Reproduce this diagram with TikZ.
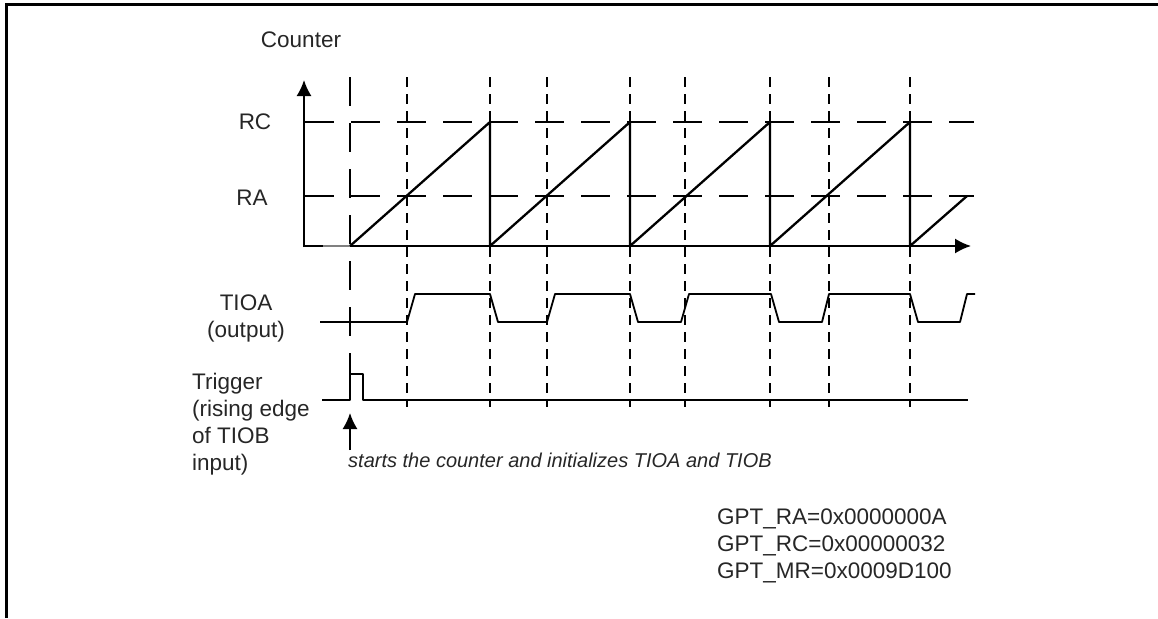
\documentclass[tikz,border=0pt]{standalone}
\usepackage{fontspec}
\setmainfont{Liberation Sans}
\usetikzlibrary{arrows.meta}

\begin{document}
\begin{tikzpicture}[x=1pt, y=-1pt, >={Latex[length=16pt,width=15pt]},
    longdash/.style={dash pattern=on 29pt off 17pt, line width=1.6pt},
    shortdash/.style={dash pattern=on 10pt off 7pt, line width=1.5pt},
    wave/.style={line width=1.8pt, line join=bevel},
    lbl/.style={font=\fontsize{22.5}{27}\selectfont, text=black!85, inner sep=0pt}]
    \useasboundingbox (0,0) rectangle (1158,618);

    % Frame
    \draw[line width=3pt] (6.5,618) -- (6.5,4.7) -- (1158,4.7);

    % Levels RC and RA
    \draw[longdash] (305,122) -- (974,122);
    \draw[longdash] (305,196) -- (974,196);

    % Trigger instant
    \draw[longdash] (350,77) -- (350,400);

    % TIOA edges
    \foreach \t in {407,490,547,630,685,770,829,910}
        \draw[shortdash] (\t,77) -- (\t,407);

    % Axes
    \draw[->, line width=1.8pt] (304,247) -- (304,80);
    \draw[->, line width=1.8pt] (304,246) -- (971,246);

    % Counter
    \draw[line width=2.6pt, black!50] (323,246) -- (350,246);
    \draw[wave, line width=2.3pt] (350,246)
        \foreach \t in {490,630,770,910} { -- (\t,122) -- (\t,246) } -- (967,196);

    % TIOA
    \draw[wave] (320,322) -- (407,322) -- (415,294) -- (490,294) -- (498,322)
        -- (547,322) -- (555,294) -- (630,294) -- (638,322) -- (681,322)
        -- (689,294) -- (771,294) -- (779,322) -- (822,322) -- (829,294)
        -- (910,294) -- (918,322) -- (960,322) -- (967,294) -- (975,294);

    % Trigger
    \draw[wave] (322,400) -- (350,400) -- (350,374) -- (363,374) -- (363,400) -- (968,400);
    \draw[->, line width=1.7pt] (350,450) -- (350,413);

    % Labels
    \node[lbl, anchor=base] (counter) at (301,48) {Counter};
    \node[lbl, anchor=base] (rc) at (255,129) {RC};
    \node[lbl, anchor=base] (ra) at (252,205) {RA};
    \node[lbl, anchor=north, align=center] (tioa) at (246,295) {TIOA\\(output)};
    \node[lbl, anchor=north west, align=left] (trigger) at (192,373) {Trigger\\(rising edge\\of TIOB\\input)};
    \node[inner sep=0pt, anchor=base west, text=black!85,
        font=\fontsize{20}{24}\selectfont\itshape] (note) at (348,467)
        {starts the counter and initializes TIOA and TIOB};
    \node[lbl, anchor=north west, align=left] (regs) at (717,509)
        {GPT\_RA=0x0000000A\\GPT\_RC=0x00000032\\GPT\_MR=0x0009D100};
\end{tikzpicture}
\end{document}
